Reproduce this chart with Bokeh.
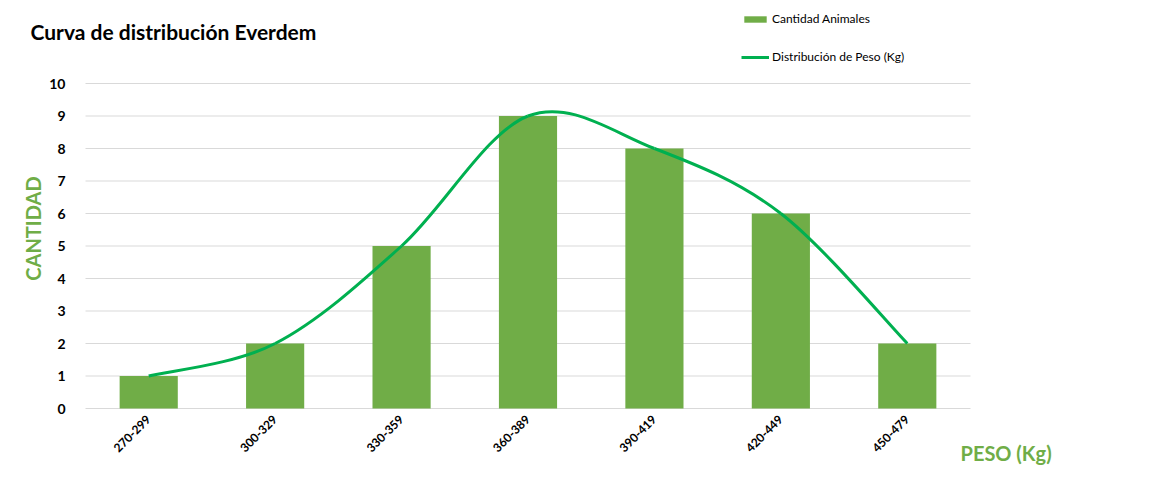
from bokeh.plotting import figure
from bokeh.models import Range1d, FixedTicker, Label, Legend, LegendItem, ColumnDataSource
from bokeh.embed import file_html
from bokeh.resources import INLINE
import math

categories = ["270-299", "300-329", "330-359", "360-389", "390-419", "420-449", "450-479"]
cantidad = [1, 2, 5, 9, 8, 6, 2]
distribucion = [1, 2, 5, 9, 8, 6, 2]
y_ticks = [0, 1, 2, 3, 4, 5, 6, 7, 8, 9, 10]

BAR = "#70ad47"
LINE = "#00b050"
FONT = "Lato"
W, H = 1158, 492

n = len(categories)
xs = [i + 0.5 for i in range(n)]

# plot area in the picture: x 85..970, y 83..408 (px); frame covers whole canvas
PX_X = (970 - 85) / n
PX_Y = (408 - 83) / 10
p = figure(width=W, height=H, output_backend="svg", toolbar_location=None,
           x_range=Range1d(-85 / PX_X, n + (W - 970) / PX_X),
           y_range=Range1d(-(H - 408) / PX_Y, 10 + 83 / PX_Y),
           min_border=0)
p.outline_line_color = None
p.background_fill_color = "white"
p.border_fill_color = "white"
p.xgrid.grid_line_color = None
p.ygrid.grid_line_color = None

# horizontal gridlines across the plot area
p.segment(x0=[0] * len(y_ticks), x1=[n] * len(y_ticks), y0=y_ticks, y1=y_ticks,
          line_color="#d9d9d9", line_width=1)

bars = p.vbar(x=xs, top=cantidad, width=0.46, fill_color=BAR, line_color=None)

# smoothed line (Excel-style cubic Bezier through the points)
pts = list(zip(xs, distribucion))
src = dict(x0=[], y0=[], x1=[], y1=[], cx0=[], cy0=[], cx1=[], cy1=[])
for i in range(n - 1):
    p0 = pts[i - 1] if i > 0 else pts[i]
    p1 = pts[i]
    p2 = pts[i + 1]
    p3 = pts[i + 2] if i + 2 < n else pts[i + 1]
    src["x0"].append(p1[0]); src["y0"].append(p1[1])
    src["x1"].append(p2[0]); src["y1"].append(p2[1])
    src["cx0"].append(p1[0] + (p2[0] - p0[0]) / 6); src["cy0"].append(p1[1] + (p2[1] - p0[1]) / 6)
    src["cx1"].append(p2[0] - (p3[0] - p1[0]) / 6); src["cy1"].append(p2[1] - (p3[1] - p1[1]) / 6)
p.bezier(x0="x0", y0="y0", x1="x1", y1="y1", cx0="cx0", cy0="cy0", cx1="cx1", cy1="cy1",
         source=ColumnDataSource(src), line_color=LINE, line_width=3)
# single-point line used only for the legend entry
leg_line = p.line(x=xs[:1], y=distribucion[:1], line_color=LINE, line_width=3)

# axes, pinned to the data origin
p.xaxis.fixed_location = 0
p.xaxis.ticker = FixedTicker(ticks=xs)
p.xaxis.major_label_overrides = {x: c for x, c in zip(xs, categories)}
p.xaxis.major_label_orientation = math.pi / 4
p.xaxis.major_label_text_font = FONT
p.xaxis.major_label_text_font_size = "12px"
p.xaxis.major_label_text_font_style = "bold"
p.xaxis.major_label_text_color = "#000000"
p.xaxis.axis_line_color = None
p.xaxis.major_tick_line_color = None
p.xaxis.minor_tick_line_color = None
p.xaxis.major_label_standoff = 3

p.yaxis.fixed_location = 0
p.yaxis.ticker = FixedTicker(ticks=y_ticks)
p.yaxis.major_label_text_font = FONT
p.yaxis.major_label_text_font_size = "14px"
p.yaxis.major_label_text_font_style = "bold"
p.yaxis.major_label_text_color = "#000000"
p.yaxis.axis_line_color = None
p.yaxis.major_tick_line_color = None
p.yaxis.minor_tick_line_color = None
p.yaxis.major_label_standoff = 14

# texts (screen units from the canvas' bottom-left corner)
p.add_layout(Label(x=30, y=H - 31, x_units="screen", y_units="screen",
                   text="Curva de distribución Everdem",
                   text_font=FONT, text_font_size="21px", text_font_style="bold", text_color="#000000",
                   text_baseline="middle"))
p.add_layout(Label(x=32, y=H - 228, x_units="screen", y_units="screen", text="CANTIDAD",
                   angle=math.pi / 2, text_align="center", text_baseline="middle",
                   text_font=FONT, text_font_size="20px", text_font_style="bold", text_color=BAR))
p.add_layout(Label(x=960, y=H - 452, x_units="screen", y_units="screen", text="PESO (Kg)",
                   text_font=FONT, text_font_size="20px", text_font_style="bold", text_color=BAR,
                   text_baseline="middle"))

legend = Legend(items=[LegendItem(label="Cantidad Animales", renderers=[bars]),
                       LegendItem(label="Distribución de Peso (Kg)", renderers=[leg_line])],
                location=(741, H - 64), orientation="vertical",
                label_text_font=FONT, label_text_font_size="12px", label_text_color="#000000",
                glyph_width=28, glyph_height=8, label_height=14, spacing=23, label_standoff=3,
                background_fill_alpha=0, border_line_color=None, padding=0, margin=0)
p.add_layout(legend)

open("out.html", "w").write(file_html(p, INLINE))
